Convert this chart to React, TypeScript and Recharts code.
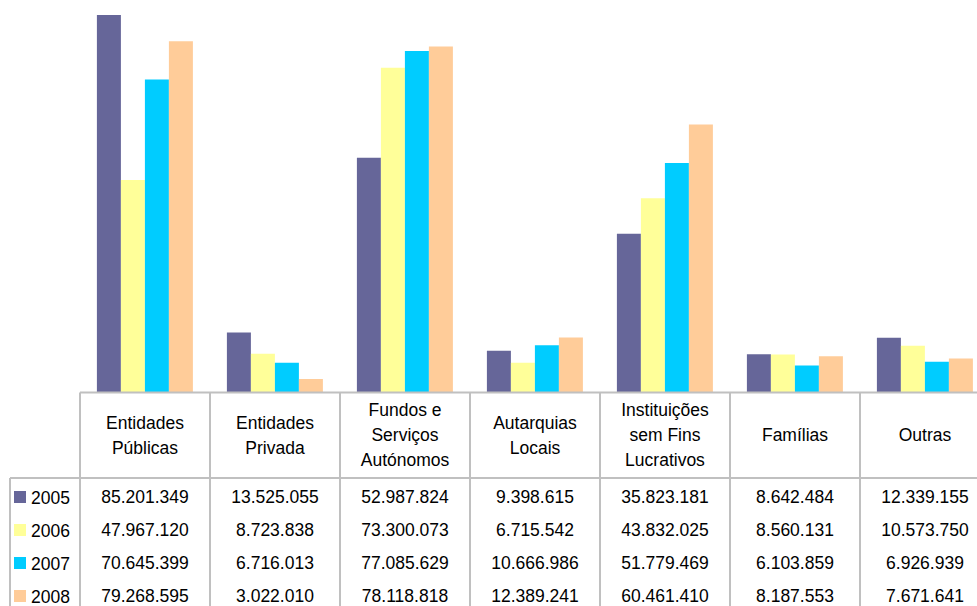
import React from 'react';
import { BarChart, Bar, XAxis, YAxis } from 'recharts';

const categories = [
  'Entidades Públicas',
  'Entidades Privada',
  'Fundos e Serviços Autónomos',
  'Autarquias Locais',
  'Instituições sem Fins Lucrativos',
  'Famílias',
  'Outras',
];
const categoryLines = [
  ['Entidades', 'Públicas'],
  ['Entidades', 'Privada'],
  ['Fundos e', 'Serviços', 'Autónomos'],
  ['Autarquias', 'Locais'],
  ['Instituições', 'sem Fins', 'Lucrativos'],
  ['Famílias'],
  ['Outras'],
];
const years = ['2005', '2006', '2007', '2008'];
const values2005 = [85201349, 13525055, 52987824, 9398615, 35823181, 8642484, 12339155];
const values2006 = [47967120, 8723838, 73300073, 6715542, 43832025, 8560131, 10573750];
const values2007 = [70645399, 6716013, 77085629, 10666986, 51779469, 6103859, 6926939];
const values2008 = [79268595, 3022010, 78118818, 12389241, 60461410, 8187553, 7671641];
const colors = ['#666699', '#FFFF99', '#00CCFF', '#FFCC99'];

const seriesValues = [values2005, values2006, values2007, values2008];
const data = categories.map((c, i) => ({
  name: c,
  y2005: values2005[i],
  y2006: values2006[i],
  y2007: values2007[i],
  y2008: values2008[i],
}));

const W = 990;
const H = 606;
const ML = 80;
const BAND = (W - ML) / categories.length;
const FONT = '"Liberation Sans", Arial, sans-serif';
const GRID = '#c0c0c0';

const fmt = (n: number) => String(n).replace(/\B(?=(\d{3})+(?!\d))/g, '.');

const TableTick = (props: any) => {
  const { x, y, index } = props;
  const half = BAND / 2;
  const lines = categoryLines[index];
  const headerCenter = y + 42.5;
  const headerBottom = y + 85.5;
  const rowY = [104.5, 137.5, 170.5, 203.5].map((d) => y + d);
  const bottom = H + 10;
  return (
    <g fontFamily={FONT} fontSize={17.5} fill="#000">
      <line x1={x - half} x2={x + half} y1={y} y2={y} stroke={GRID} strokeWidth={2} />
      <line x1={x - half} x2={x + half} y1={headerBottom} y2={headerBottom} stroke={GRID} strokeWidth={2} />
      <line x1={x - half} x2={x - half} y1={y} y2={bottom} stroke={GRID} strokeWidth={2} />
      {index === categories.length - 1 && (
        <line x1={x + half} x2={x + half} y1={y} y2={bottom} stroke={GRID} strokeWidth={2} />
      )}
      {lines.map((t, k) => (
        <text
          key={k}
          x={x}
          y={headerCenter + (k - (lines.length - 1) / 2) * 25}
          textAnchor="middle"
          dominantBaseline="central"
          fill="#000"
        >
          {t}
        </text>
      ))}
      {seriesValues.map((vals, r) => (
        <text key={'v' + r} x={x} y={rowY[r]} textAnchor="middle" dominantBaseline="central" fill="#000">
          {fmt(vals[index])}
        </text>
      ))}
      {index === 0 && (
        <g>
          <line x1={10} x2={x - half} y1={headerBottom} y2={headerBottom} stroke={GRID} strokeWidth={2} />
          <line x1={10} x2={10} y1={headerBottom} y2={bottom} stroke={GRID} strokeWidth={2} />
          {years.map((yr, r) => (
            <g key={yr}>
              <rect x={14} y={rowY[r] - 6} width={12} height={12} fill={colors[r]} />
              <text x={31} y={rowY[r] + 1} dominantBaseline="central" fill="#000">
                {yr}
              </text>
            </g>
          ))}
        </g>
      )}
    </g>
  );
};

export default function App() {
  return (
    <div
      style={{
        position: 'absolute',
        left: 0,
        top: 0,
        width: 977,
        height: 606,
        overflow: 'hidden',
        background: '#fff',
      }}
    >
      <BarChart
        width={W}
        height={H}
        data={data}
        margin={{ top: 0, right: 0, bottom: 0, left: ML }}
        barCategoryGap="13%"
        barGap={0}
      >
        <XAxis
          dataKey="name"
          axisLine={false}
          tickLine={false}
          tickSize={0}
          tickMargin={0}
          height={213.5}
          interval={0}
          tick={<TableTick />}
        />
        <YAxis hide domain={[0, 88590000]} allowDataOverflow />
        <Bar dataKey="y2005" fill={colors[0]} isAnimationActive={false} />
        <Bar dataKey="y2006" fill={colors[1]} isAnimationActive={false} />
        <Bar dataKey="y2007" fill={colors[2]} isAnimationActive={false} />
        <Bar dataKey="y2008" fill={colors[3]} isAnimationActive={false} />
      </BarChart>
    </div>
  );
}
